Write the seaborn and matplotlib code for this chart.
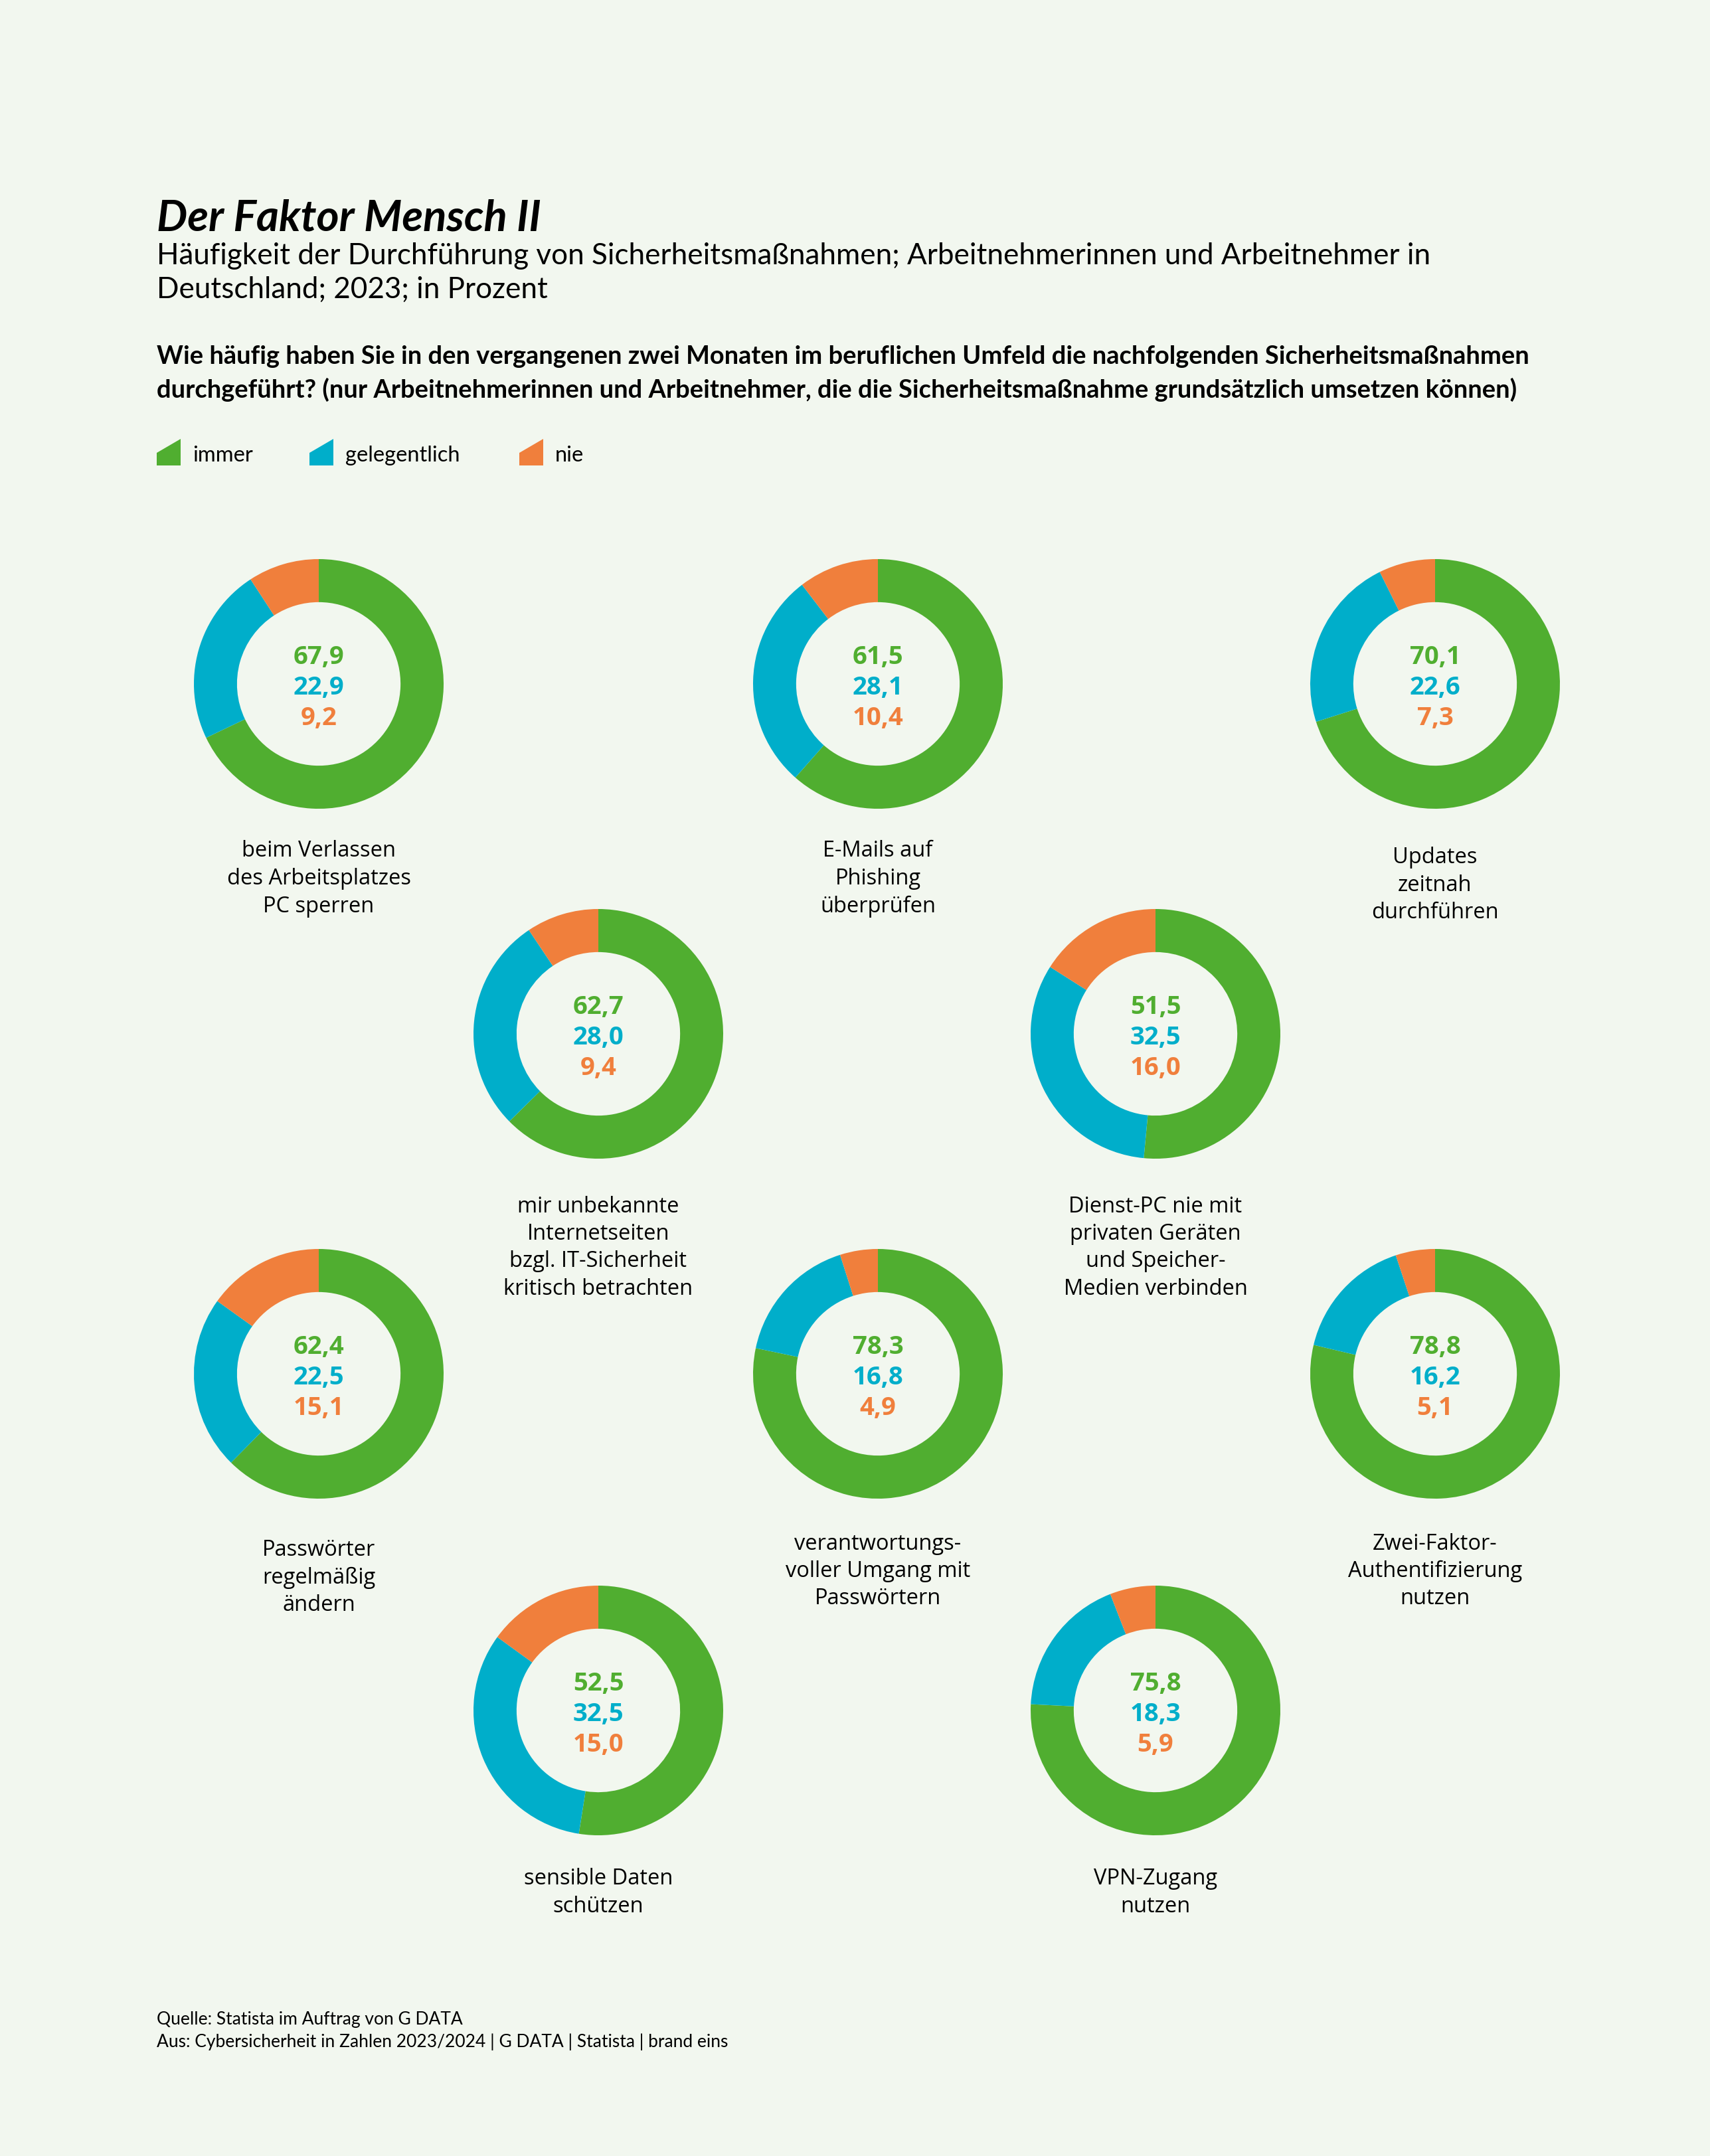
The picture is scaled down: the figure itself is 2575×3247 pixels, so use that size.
import matplotlib
matplotlib.use("Agg")
import matplotlib.pyplot as plt
import seaborn as sns
from matplotlib.patches import Polygon

# Daten
kategorien = ["immer", "gelegentlich", "nie"]
massnahmen = [
    ["beim Verlassen", "des Arbeitsplatzes", "PC sperren"],
    ["E-Mails auf", "Phishing", "überprüfen"],
    ["Updates", "zeitnah", "durchführen"],
    ["mir unbekannte", "Internetseiten", "bzgl. IT-Sicherheit", "kritisch betrachten"],
    ["Dienst-PC nie mit", "privaten Geräten", "und Speicher-", "Medien verbinden"],
    ["Passwörter", "regelmäßig", "ändern"],
    ["verantwortungs-", "voller Umgang mit", "Passwörtern"],
    ["Zwei-Faktor-", "Authentifizierung", "nutzen"],
    ["sensible Daten", "schützen"],
    ["VPN-Zugang", "nutzen"],
]
immer = [67.9, 61.5, 70.1, 62.7, 51.5, 62.4, 78.3, 78.8, 52.5, 75.8]
gelegentlich = [22.9, 28.1, 22.6, 28.0, 32.5, 22.5, 16.8, 16.2, 32.5, 18.3]
nie = [9.2, 10.4, 7.3, 9.4, 16.0, 15.1, 4.9, 5.1, 15.0, 5.9]

# Layout (Pixel)
W, H = 2575, 3248
zentren = [(480, 1031), (1322, 1031), (2161, 1031),
           (901, 1558), (1740, 1558),
           (480, 2070), (1322, 2070), (2161, 2070),
           (901, 2577), (1740, 2577)]
label_abstand = [251, 251, 261, 259, 259, 265, 255, 255, 253, 253]
R = 188

hintergrund = "#f2f7ef"
farben = sns.color_palette(["#50ae30", "#00aeca", "#f07f3c"])

sns.set_theme(style="white", rc={"figure.facecolor": hintergrund, "axes.facecolor": hintergrund})
plt.rcParams["font.family"] = ["Lato", "DejaVu Sans"]

fig = plt.figure(figsize=(W / 100, H / 100), dpi=100)


def fx(x):
    return x / W


def fy(y):
    return 1 - y / H


def text(x, y, s, size, **kw):
    fig.text(fx(x), fy(y), s, fontsize=size, va="center", **kw)


# Kopf
text(236, 328, "Der Faktor Mensch II", 47, weight="bold", style="italic", color="black")
text(236, 386, "Häufigkeit der Durchführung von Sicherheitsmaßnahmen; Arbeitnehmerinnen und Arbeitnehmer in", 31.7, color="black")
text(236, 436, "Deutschland; 2023; in Prozent", 31.7, color="black")
text(236, 537, "Wie häufig haben Sie in den vergangenen zwei Monaten im beruflichen Umfeld die nachfolgenden Sicherheitsmaßnahmen", 27.4, weight="bold", color="black")
text(236, 587, "durchgeführt? (nur Arbeitnehmerinnen und Arbeitnehmer, die die Sicherheitsmaßnahme grundsätzlich umsetzen können)", 27.4, weight="bold", color="black")

# Legende
for lx, name, farbe in zip([236, 466, 782], kategorien, farben):
    pts = [(fx(lx), fy(702)), (fx(lx + 36), fy(702)), (fx(lx + 36), fy(662)), (fx(lx), fy(683))]
    fig.patches.append(Polygon(pts, closed=True, transform=fig.transFigure, color=farbe, lw=0))
    text(lx + 54, 686, name, 23.5, color="black")

# Donuts
for i, (cx, cy) in enumerate(zentren):
    ax = fig.add_axes([fx(cx - R), fy(cy + R), 2 * R / W, 2 * R / H])
    werte = [immer[i], gelegentlich[i], nie[i]]
    ax.pie(werte, colors=farben, startangle=90, counterclock=False, radius=1,
           wedgeprops=dict(width=0.345, edgecolor="none", linewidth=0))
    ax.set_xlim(-1, 1)
    ax.set_ylim(-1, 1)
    ax.set_aspect("equal")
    ax.axis("off")
    for j, (w, farbe) in enumerate(zip(werte, farben)):
        text(cx, cy + 5 + (j - 1) * 46, f"{w:.1f}".replace(".", ","), 27.5, weight="bold",
             color=farbe, ha="center", family=["Open Sans", "DejaVu Sans"])
    for k, zeile in enumerate(massnahmen[i]):
        text(cx, cy + label_abstand[i] + k * 41.5, zeile, 23.5, color="black", ha="center",
             family=["Open Sans", "DejaVu Sans"])

# Quelle
text(236, 3042, "Quelle: Statista im Auftrag von G DATA", 19, color="black")
text(236, 3075, "Aus: Cybersicherheit in Zahlen 2023/2024 | G DATA | Statista | brand eins", 19, color="black")

fig.savefig("out.png", dpi=100, facecolor=hintergrund)
